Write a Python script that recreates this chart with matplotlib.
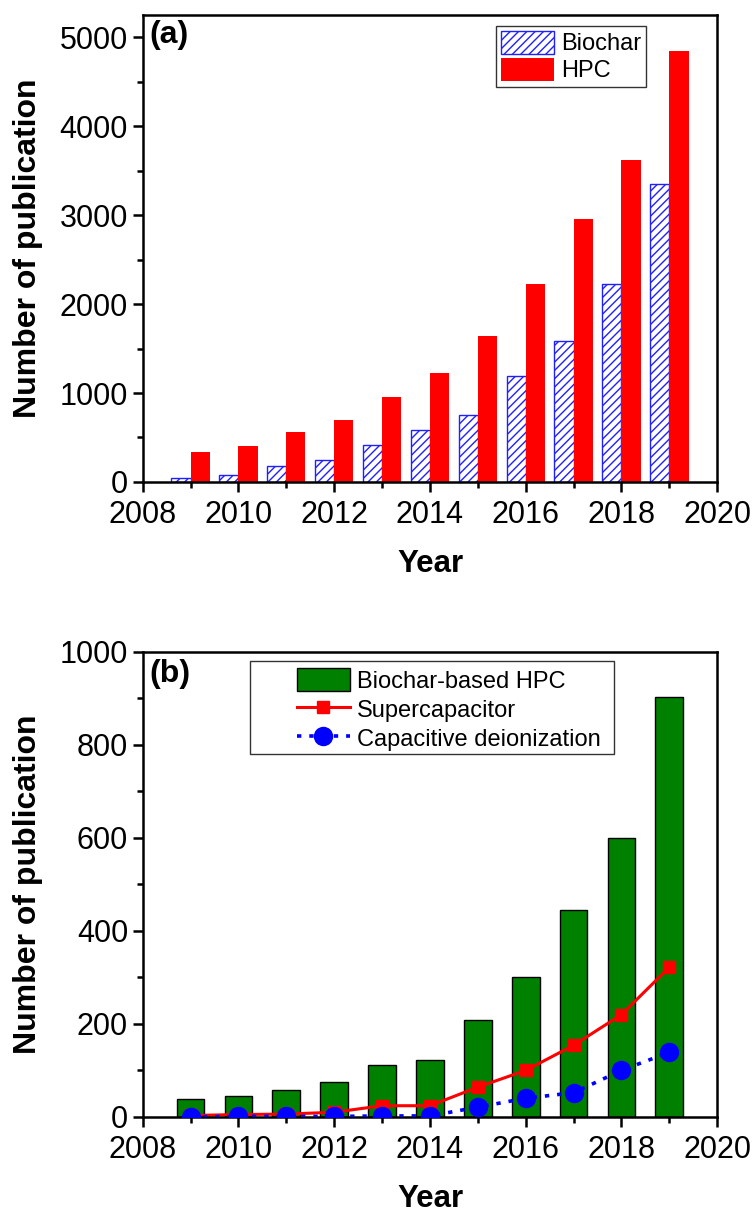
import numpy as np
import matplotlib.pyplot as plt
from matplotlib.patches import Rectangle
from matplotlib.ticker import MultipleLocator

plt.rcParams["font.family"] = ["Liberation Sans", "DejaVu Sans"]
plt.rcParams["hatch.linewidth"] = 1.0

years = [2009, 2010, 2011, 2012, 2013, 2014, 2015, 2016, 2017, 2018, 2019]

# panel (a): publications per year
biochar = [45, 80, 180, 250, 415, 580, 750, 1190, 1590, 2225, 3355]
hpc = [340, 400, 560, 700, 955, 1230, 1640, 2220, 2960, 3620, 4850]

# panel (b): biochar-based HPC and its applications
biochar_hpc = [39, 45, 58, 75, 111, 122, 208, 300, 445, 600, 903]
supercap = [3, 5, 6, 10, 24, 24, 64, 100, 154, 220, 322]
cdi = [0, 1, 1, 1, 2, 2, 21, 40, 52, 100, 139]

fig = plt.figure(figsize=(7.55, 12.14), dpi=100)
ax1 = fig.add_axes([0.189, 0.603, 0.761, 0.3847])
ax2 = fig.add_axes([0.189, 0.0800, 0.761, 0.3830])

x = np.array(years)
w = 0.4
ax1.bar(x, biochar, width=-w, align="edge", facecolor="white",
        edgecolor="#2020ff", hatch="////", linewidth=1.0, label="Biochar")
ax1.bar(x, hpc, width=w, align="edge", color="#ff0000", label="HPC")
ax1.set_ylim(0, 5250)
ax1.yaxis.set_major_locator(MultipleLocator(1000))
ax1.yaxis.set_minor_locator(MultipleLocator(500))
ax1.text(0.012, 0.99, "(a)", transform=ax1.transAxes, fontsize=23,
         fontweight="bold", va="top", ha="left")
ax1.legend(loc="upper right", bbox_to_anchor=(0.876, 0.976), fontsize=17,
           fancybox=False, framealpha=1, edgecolor="#333333",
           handlelength=2.25, handleheight=1.1, borderpad=0.2,
           labelspacing=0.12, handletextpad=0.3, borderaxespad=0)

bars = ax2.bar(x, biochar_hpc, width=0.58, color="#008000", edgecolor="black",
               linewidth=1.0, label="Biochar-based HPC", zorder=1)
l1, = ax2.plot(x, supercap, color="#ff0000", linewidth=2.2, marker="s",
               markersize=9, label="Supercapacitor", zorder=2)
l2, = ax2.plot(x, cdi, color="#0000ff", linewidth=2.6, linestyle=(0, (1.2, 2.2)),
               marker="o", markersize=13, label="Capacitive deionization", zorder=3)
ax2.set_ylim(0, 1000)
ax2.yaxis.set_major_locator(MultipleLocator(200))
ax2.yaxis.set_minor_locator(MultipleLocator(100))
ax2.text(0.012, 0.985, "(b)", transform=ax2.transAxes, fontsize=23,
         fontweight="bold", va="top", ha="left")
# legend box is wider than its contents, so the frame is drawn separately
ax2.add_patch(Rectangle((0.1864, 0.7794), 0.6342, 0.2013, transform=ax2.transAxes,
                        facecolor="white", edgecolor="#333333", linewidth=1.0,
                        zorder=4))
leg2 = ax2.legend(handles=[bars, l1, l2], loc="upper left",
                  bbox_to_anchor=(0.268, 0.965), fontsize=17, frameon=False,
                  handlelength=2.25, handleheight=1.1, borderpad=0,
                  labelspacing=0.2, handletextpad=0.3, borderaxespad=0)
leg2.set_zorder(5)

for ax in (ax1, ax2):
    ax.set_xlim(2008, 2020)
    ax.xaxis.set_major_locator(MultipleLocator(2))
    ax.xaxis.set_minor_locator(MultipleLocator(1))
    for s in ax.spines.values():
        s.set_linewidth(1.8)
    ax.tick_params(which="both", direction="out", width=1.8, labelsize=22,
                   top=False, right=False)
    ax.tick_params(which="major", length=7)
    ax.tick_params(which="minor", length=4)
    ax.tick_params(axis="x", which="major", pad=6)
    ax.set_xlabel("Year", fontsize=22.5, fontweight="bold", labelpad=14)
    ax.set_ylabel("Number of publication", fontsize=23, fontweight="bold",
                  labelpad=12)

fig.savefig("out.png", dpi=100)
